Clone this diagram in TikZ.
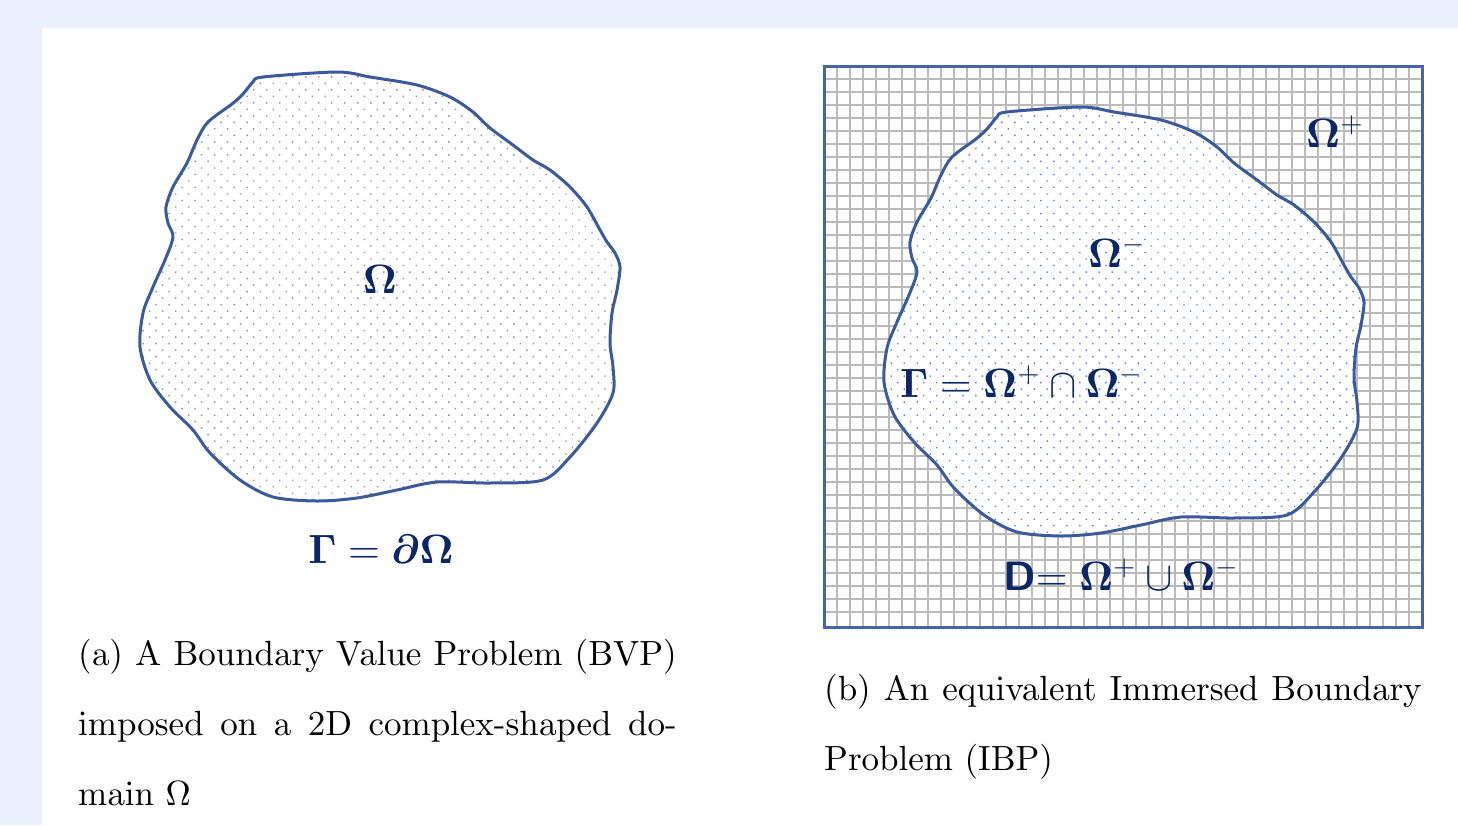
\RequirePackage{fix-cm}
\documentclass[tikz,border=0pt]{standalone}
\usepackage{amsmath}
\usepackage{bm}
\usetikzlibrary{patterns.meta}
% Computer Modern at its 10pt design, scaled to any size
\DeclareFontFamily{OT1}{cmten}{}
\DeclareFontShape{OT1}{cmten}{m}{n}{<-> cmr10}{}
\DeclareFontShape{OT1}{cmten}{bx}{n}{<-> cmbx10}{}
\DeclareSymbolFont{operators}{OT1}{cmten}{m}{n}
\SetSymbolFont{operators}{bold}{OT1}{cmten}{bx}{n}
\SetMathAlphabet{\mathbf}{normal}{OT1}{cmten}{bx}{n}
\newcommand{\capfont}{\fontencoding{OT1}\fontfamily{cmten}\fontsize{35}{70}\selectfont}
\definecolor{pagebg}{RGB}{236,240,252}
\definecolor{blobedge}{RGB}{58,90,155}
\definecolor{frameedge}{RGB}{70,100,168}
\definecolor{labelnavy}{RGB}{10,38,100}
\definecolor{innerdot}{RGB}{90,130,215}
\colorlet{outerdot}{black!42}
\colorlet{gridgray}{black!27}

% the wobbly domain, in pixel units
\newcommand{\blobpath}{plot[smooth cycle, tension=0.5] coordinates {
  (263,77) (337,72) (370,77) (417,85) (450,97) (473,112) (490,128)
  (513,145) (533,160) (550,170) (570,187) (587,207) (600,230) (607,242)
  (615,253) (620,267) (617,290) (612,313) (610,343) (613,367) (613,393)
  (597,423) (570,457) (543,480) (490,483) (437,482) (397,490) (357,498)
  (317,501) (273,497) (240,480) (210,453) (193,430) (170,407) (150,380)
  (140,347) (143,313) (153,287) (165,260) (173,237) (168,223) (166,207)
  (173,187) (187,163) (197,140) (208,122) (232,104) (243,94) (253,82)}}

\begin{document}
\begin{tikzpicture}[
    x=1pt, y=-1pt,
    blob/.style={draw=blobedge, line width=3pt, line join=round},
    dotsout/.style={pattern={Dots[distance=9.2pt, angle=45, radius=1pt]}, pattern color=outerdot},
    dotsin/.style={pattern={Dots[distance=9.2pt, angle=45, radius=1pt]}, pattern color=innerdot},
    gridline/.style={draw=gridgray, line width=1.4pt},
    mathlbl/.style={text=labelnavy, inner sep=0pt, font=\fontsize{41}{41}\selectfont},
    caption/.style={inner sep=0pt, anchor=base west, align=justify, font=\capfont}
  ]
  \useasboundingbox (0,0) rectangle (1458,825);
  \fill[pagebg] (0,0) rectangle (1458,825);
  \fill[white] (42,28) rectangle (1458,825);

  % (a) the BVP domain
  \path[dotsout] \blobpath;
  \draw[blob] \blobpath;
  \node[mathlbl, anchor=base] (omega) at (380,293) {$\mathbf{\Omega}$};
  \node[mathlbl, anchor=base] (gamma) at (381,563)
    {$\mathbf{\Gamma} = \bm{\partial}\mathbf{\Omega}$};

  % (b) the immersed domain on a grid
  \foreach \gx in {1,...,45}
    \draw[gridline] (824+13*\gx,66) -- (824+13*\gx,627);
  \foreach \gy in {1,...,42}
    \draw[gridline] (824,66+13*\gy) -- (1422,66+13*\gy);
  \begin{scope}[shift={(744,35)}]
    \fill[white] \blobpath;
    \path[dotsin] \blobpath;
    \draw[blob] \blobpath;
  \end{scope}
  \draw[draw=frameedge, line width=3pt] (824,66) rectangle (1422,627);

  \node[mathlbl, anchor=base west] (omegaplus) at (1306,147)
    {$\mathbf{\Omega}^{+}$};
  \node[mathlbl, anchor=base west] (omegaminus) at (1088,267)
    {$\mathbf{\Omega}^{-}$};
  \node[mathlbl, anchor=base west] (interface) at (900,397)
    {$\mathbf{\Gamma} = \mathbf{\Omega}^{+} \cap \mathbf{\Omega}^{-}$};
  \node[mathlbl, anchor=base west] (whole) at (1003,590)
    {\textsf{\textbf{D}}$=\mathbf{\Omega}^{+} \cup \mathbf{\Omega}^{-}$};

  % captions
  \node[caption, text width=599pt] (capa) at (78,665)
    {(a) A Boundary Value Problem (BVP)\linebreak
     imposed on a 2D complex-shaped do-\linebreak
     main $\Omega$};
  \node[caption, text width=598pt] (capb) at (824,700)
    {(b) An equivalent Immersed Boundary\linebreak
     Problem (IBP)};
\end{tikzpicture}
\end{document}
